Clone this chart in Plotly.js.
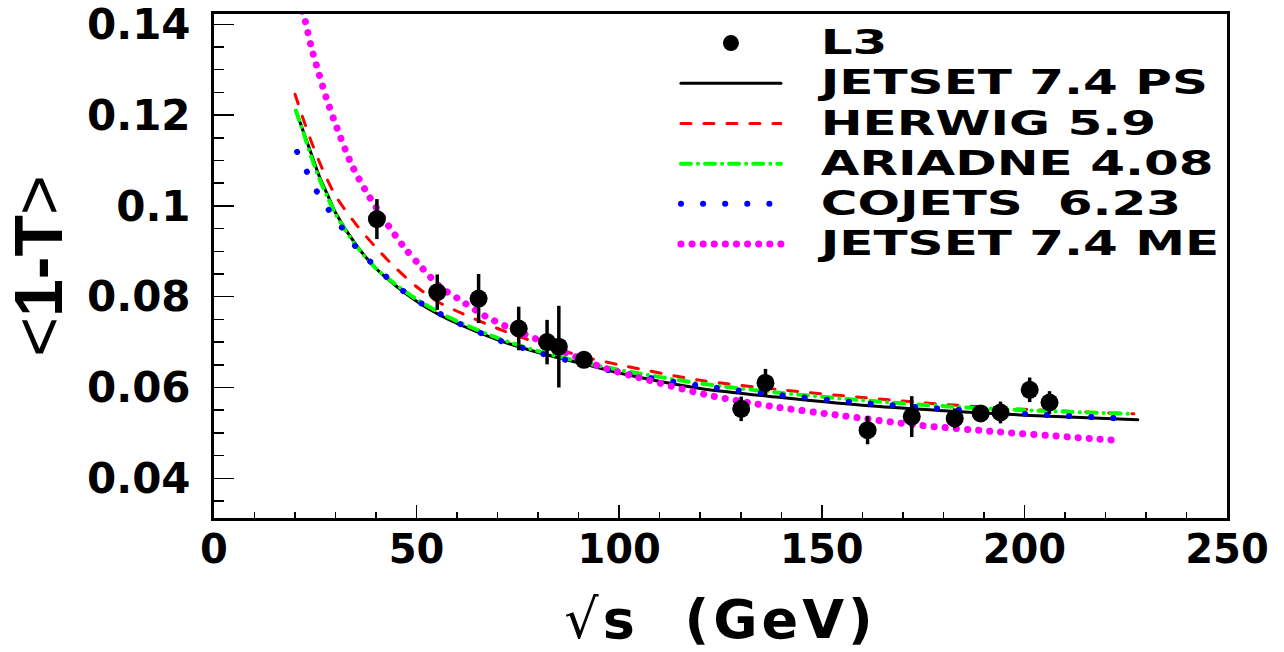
<!DOCTYPE html>
<html>
<head>
<meta charset="utf-8">
<script src="https://cdn.plot.ly/plotly-3.0.1.min.js"></script>
<style>
  html, body { margin: 0; padding: 0; background: #fff; }
  #chart { width: 1284px; height: 652px; }
  .js-line { stroke-linecap: round !important; }
  .legendtext { transform-box: fill-box; transform-origin: 0% 50%; transform: scaleX(1.45); }
</style>
</head>
<body>
<div id="chart"></div>
<script>
// ---- L3 data ----
const l3Energy = [40.2, 55.1, 65.3, 75.2, 82.2, 85.1, 91.3, 130.1, 136.1, 161.3, 172.2, 182.8, 189.2, 194.1, 201.3, 206.2];
const l3Mean   = [0.0971, 0.0810, 0.0796, 0.0730, 0.0700, 0.0690, 0.0661, 0.0553, 0.0610, 0.0506, 0.0536, 0.0532, 0.0543, 0.0545, 0.0595, 0.0567];
const l3Err    = [0.0044, 0.0039, 0.0054, 0.0048, 0.0049, 0.0090, 0.0010, 0.0027, 0.0031, 0.0031, 0.0045, 0.0022, 0.0015, 0.0024, 0.0027, 0.0025];

// ---- Model curves ----
const psX = [20.2, 22, 24, 26, 28, 30, 35, 40, 45, 50, 55, 60, 70, 80, 91.2, 100, 120, 140, 160, 180, 200, 228];
const psY = [0.121, 0.1165, 0.1115, 0.1065, 0.1025, 0.0985, 0.0915, 0.0862, 0.0823, 0.0790, 0.0763, 0.0741, 0.0705, 0.0677, 0.0652, 0.0632, 0.0598, 0.0578, 0.0561, 0.0549, 0.0539, 0.0529];

const herwigX = [20, 22, 24, 26, 28, 30, 35, 40, 45, 50, 55, 60, 70, 80, 91.2, 100, 120, 140, 160, 180, 200, 227];
const herwigY = [0.1246, 0.1192, 0.1142, 0.1097, 0.1057, 0.1022, 0.0960, 0.0908, 0.0862, 0.0822, 0.0790, 0.0768, 0.0730, 0.0698, 0.0668, 0.0650, 0.0616, 0.0595, 0.0578, 0.0563, 0.0552, 0.0542];

const ariadneX = [20.2, 22, 24, 26, 28, 30, 35, 40, 45, 50, 55, 60, 70, 80, 91.2, 100, 120, 140, 160, 180, 200, 227];
const ariadneY = [0.121, 0.1163, 0.1108, 0.1060, 0.1020, 0.0982, 0.0913, 0.0862, 0.0826, 0.0794, 0.0768, 0.0746, 0.0709, 0.0680, 0.0655, 0.0639, 0.0609, 0.0588, 0.0572, 0.0559, 0.0550, 0.0542];

const cojetsX = [20.5, 22, 24, 26, 28, 30, 35, 40, 45, 50, 55, 60, 70, 80, 91.2, 100, 120, 140, 160, 180, 200, 226];
const cojetsY = [0.1119, 0.1093, 0.1055, 0.1022, 0.0995, 0.0972, 0.0910, 0.0865, 0.0824, 0.0792, 0.0766, 0.0743, 0.0705, 0.0677, 0.0651, 0.0633, 0.0604, 0.0583, 0.0566, 0.0553, 0.0542, 0.0531];

const meX = [21.8, 22.5, 24, 26, 28, 30, 34, 38, 42, 47, 51, 56, 60, 67, 74, 80, 87, 96, 104, 121, 138, 155, 174, 194, 211, 224];
const meY = [0.1429, 0.1408, 0.1350, 0.1288, 0.1230, 0.1180, 0.1090, 0.1025, 0.0970, 0.0908, 0.0867, 0.0820, 0.0797, 0.0757, 0.0727, 0.0705, 0.0676, 0.0644, 0.0624, 0.0585, 0.0558, 0.0538, 0.0517, 0.0502, 0.0491, 0.0483];

const seriesNames = ['L3', 'JETSET 7.4 PS', 'HERWIG 5.9', 'ARIADNE 4.08', 'COJETS\u00A0\u00A06.23', 'JETSET 7.4 ME'];

function legendLabel(s) {
  return '<span style="font-size:34.5px">\u00A0\u00A0' + s + '</span>';
}

const traces = [
  { x: psX, y: psY, mode: 'lines', name: legendLabel(seriesNames[1]), legendrank: 2,
    line: { color: '#000000', width: 3, shape: 'spline', smoothing: 0.8 } },
  { x: herwigX, y: herwigY, mode: 'lines', name: legendLabel(seriesNames[2]), legendrank: 3,
    line: { color: '#ff0000', width: 3, dash: '10px,13px', shape: 'spline', smoothing: 0.8 } },
  { x: ariadneX, y: ariadneY, mode: 'lines', name: legendLabel(seriesNames[3]), legendrank: 4,
    line: { color: '#00ff00', width: 4, dash: '10px,7px,0.1px,7px', shape: 'spline', smoothing: 0.8 } },
  { x: cojetsX, y: cojetsY, mode: 'lines', name: legendLabel(seriesNames[4]), legendrank: 5,
    line: { color: '#0000ff', width: 6, dash: '0.1px,22px', shape: 'spline', smoothing: 0.8 } },
  { x: meX, y: meY, mode: 'lines', name: legendLabel(seriesNames[5]), legendrank: 6,
    line: { color: '#ff00ff', width: 7, dash: '0.1px,11px', shape: 'spline', smoothing: 0.8 } },
  { x: l3Energy, y: l3Mean, mode: 'markers', name: legendLabel(seriesNames[0]), legendrank: 1,
    marker: { color: '#000000', size: 18, symbol: 'circle' },
    error_y: { type: 'data', array: l3Err, visible: true, color: '#000000', thickness: 3.5, width: 0 } }
];

const layout = {
  width: 1284, height: 652,
  paper_bgcolor: '#ffffff', plot_bgcolor: '#ffffff',
  margin: { l: 214, r: 57, t: 14, b: 134 },
  showlegend: true,
  legend: {
    x: 0.456, y: 0.992, xanchor: 'left', yanchor: 'top',
    bgcolor: 'rgba(0,0,0,0)', borderwidth: 0,
    itemwidth: 100, tracegroupgap: 0,
    font: { family: 'DejaVu Sans', size: 28.6, color: '#000000', weight: 'bold' }
  },
  xaxis: {
    range: [0, 250], showgrid: false, zeroline: false,
    showline: true, linecolor: '#000000', linewidth: 3, mirror: true,
    ticks: 'inside', ticklen: 13, tickwidth: 1.5, tickcolor: '#000000',
    tick0: 0, dtick: 50,
    minor: { ticks: 'inside', ticklen: 6, tickwidth: 1.5, tickcolor: '#000000', dtick: 10, showgrid: false },
    tickfont: { family: 'DejaVu Sans', size: 40, color: '#000000', weight: 'bold' },
    ticklabelstandoff: -6,
    title: { text: '<span style="letter-spacing:4px"><span style="font-weight:normal">\u221A</span>s\u00A0\u00A0(GeV)</span>',
             font: { family: 'DejaVu Sans', size: 54, color: '#000000', weight: 'bold' }, standoff: 30 }
  },
  yaxis: {
    range: [0.03126, 0.14227], showgrid: false, zeroline: false,
    showline: true, linecolor: '#000000', linewidth: 3, mirror: true,
    ticks: 'inside', ticklen: 20, tickwidth: 1.5, tickcolor: '#000000',
    tick0: 0, dtick: 0.02,
    minor: { ticks: 'inside', ticklen: 10, tickwidth: 1.5, tickcolor: '#000000', dtick: 0.005, showgrid: false },
    tickfont: { family: 'DejaVu Sans', size: 42, color: '#000000', weight: 'bold' },
    ticklabelstandoff: 12,
    title: { text: '<span style="font-weight:normal">&lt;</span>1-T<span style="font-weight:normal">&gt;</span>',
             font: { family: 'Liberation Sans', size: 68, color: '#000000', weight: 'bold' }, standoff: 22 }
  }
};

Plotly.newPlot('chart', traces, layout, { displayModeBar: false, staticPlot: true });
</script>
</body>
</html>
